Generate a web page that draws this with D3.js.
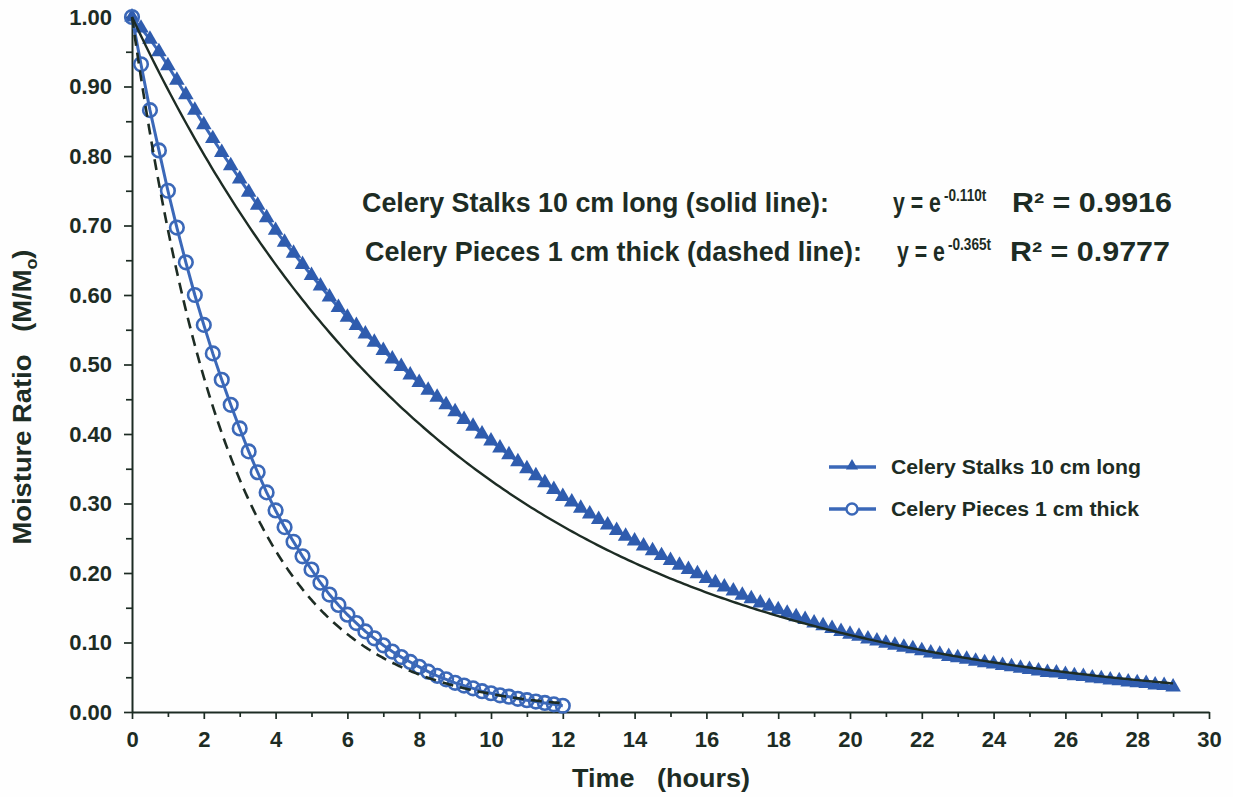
<!DOCTYPE html>
<html>
<head>
<meta charset="utf-8">
<script src="https://cdn.jsdelivr.net/npm/d3@7"></script>
<style>
  html, body { margin: 0; padding: 0; background: #fefefe; }
  svg { display: block; font-family: "Liberation Sans", Arial, sans-serif; font-weight: bold; }
</style>
</head>
<body>
<svg id="chart" width="1233" height="797"></svg>
<script>
// ---- data -------------------------------------------------------------
const xTicks = [0, 2, 4, 6, 8, 10, 12, 14, 16, 18, 20, 22, 24, 26, 28, 30];
const xMinorTicks = [1, 3, 5, 7, 9, 11, 13, 15, 17, 19, 21, 23, 25, 27, 29];
const yTicks = [0, 0.1, 0.2, 0.3, 0.4, 0.5, 0.6, 0.7, 0.8, 0.9, 1.0];
const yMinorTicks = [0.05, 0.15, 0.25, 0.35, 0.45, 0.55, 0.65, 0.75, 0.85, 0.95];

// readings were taken every quarter hour
const sampleStep = 0.25;

// moisture ratio M/Mo, celery stalks 10 cm long (t = 0 ... 29 h)
const stalkRatio = [
  1.000, 0.984, 0.968, 0.950, 0.930, 0.909, 0.888, 0.866,
  0.845, 0.825, 0.805, 0.786, 0.767, 0.748, 0.729, 0.711,
  0.693, 0.676, 0.660, 0.644, 0.628, 0.613, 0.597, 0.582,
  0.568, 0.556, 0.544, 0.532, 0.520, 0.508, 0.497, 0.485,
  0.474, 0.463, 0.453, 0.442, 0.432, 0.421, 0.411, 0.400,
  0.390, 0.380, 0.370, 0.360, 0.350, 0.340, 0.330, 0.320,
  0.310, 0.302, 0.293, 0.285, 0.277, 0.269, 0.261, 0.253,
  0.246, 0.239, 0.232, 0.225, 0.218, 0.211, 0.205, 0.199,
  0.192, 0.186, 0.180, 0.174, 0.168, 0.163, 0.157, 0.152,
  0.147, 0.142, 0.137, 0.133, 0.128, 0.124, 0.120, 0.116,
  0.112, 0.109, 0.105, 0.102, 0.099, 0.096, 0.093, 0.091,
  0.088, 0.085, 0.083, 0.080, 0.078, 0.076, 0.073, 0.071,
  0.069, 0.067, 0.065, 0.063, 0.061, 0.059, 0.057, 0.056,
  0.054, 0.052, 0.051, 0.049, 0.048, 0.046, 0.045, 0.043,
  0.042, 0.041, 0.039, 0.038, 0.036
];

// moisture ratio M/Mo, celery pieces 1 cm thick (t = 0 ... 12 h)
const pieceRatio = [
  1.000, 0.932, 0.866, 0.808, 0.750, 0.697, 0.647, 0.600,
  0.557, 0.516, 0.478, 0.442, 0.408, 0.375, 0.345, 0.316,
  0.290, 0.266, 0.245, 0.224, 0.205, 0.186, 0.169, 0.154,
  0.140, 0.128, 0.116, 0.106, 0.096, 0.087, 0.079, 0.072,
  0.065, 0.058, 0.052, 0.047, 0.042, 0.038, 0.034, 0.030,
  0.027, 0.024, 0.022, 0.019, 0.017, 0.015, 0.013, 0.011,
  0.009
];

const seriesNames = ["Celery Stalks 10 cm long", "Celery Pieces 1 cm thick"];

// exponential fits y = e^(-k t)
const fitRates = [0.110, 0.365];
const fitRateLabels = ["-0.110t", "-0.365t"];
const fitR2 = ["0.9916", "0.9777"];
const fitEnds = [29, 12];
const fitNotes = [
  "Celery Stalks 10 cm long (solid line):",
  "Celery Pieces 1 cm thick (dashed line):"
];

// ---- layout -----------------------------------------------------------
const INK = "#1d2c24";
const BLUE = "#2f5cae";
const BLUE_LINE = "#3b68b8";

const svg = d3.select("#chart");
const x = d3.scaleLinear().domain([0, 30]).range([132, 1209]);
const y = d3.scaleLinear().domain([0, 1]).range([712, 17]);

const stalks = stalkRatio.map((v, i) => ({ t: i * sampleStep, v }));
const pieces = pieceRatio.map((v, i) => ({ t: i * sampleStep, v }));

// ---- axes -------------------------------------------------------------
function styleAxis(g) {
  g.selectAll("path.domain").attr("stroke", INK).attr("stroke-width", 2);
  g.selectAll(".tick line").attr("stroke", INK).attr("stroke-width", 1.7);
  g.selectAll(".tick text")
    .attr("fill", INK)
    .style("font-size", "22px")
    .style("font-weight", "bold")
    .style("font-family", "'Liberation Sans', Arial, sans-serif");
}

svg.append("g")
  .attr("transform", `translate(0,${y(0)})`)
  .call(d3.axisBottom(x).tickValues(xMinorTicks).tickSize(5).tickFormat(""))
  .call(g => g.select("path.domain").remove())
  .call(styleAxis);

svg.append("g")
  .attr("transform", `translate(0,${y(0)})`)
  .call(d3.axisBottom(x).tickValues(xTicks).tickSize(7).tickSizeOuter(0)
    .tickPadding(12).tickFormat(d3.format("d")))
  .call(styleAxis);

svg.append("g")
  .attr("transform", `translate(${x(0)},0)`)
  .call(d3.axisLeft(y).tickValues(yMinorTicks).tickSize(6).tickFormat(""))
  .call(g => g.select("path.domain").remove())
  .call(styleAxis);

svg.append("g")
  .attr("transform", `translate(${x(0)},0)`)
  .call(d3.axisLeft(y).tickValues(yTicks).tickSize(8).tickSizeOuter(0)
    .tickPadding(12).tickFormat(d3.format(".2f")))
  .call(styleAxis);

// axis titles
svg.append("text")
  .attr("x", 661).attr("y", 787)
  .attr("text-anchor", "middle")
  .attr("fill", INK)
  .style("font-size", "26px")
  .attr("textLength", 178).attr("lengthAdjust", "spacingAndGlyphs")
  .text("Time\u00a0\u00a0\u00a0(hours)");

const yTitle = svg.append("text")
  .attr("transform", "translate(31,397) rotate(-90)")
  .attr("text-anchor", "middle")
  .attr("fill", INK)
  .style("font-size", "26px")
  .attr("textLength", 295).attr("lengthAdjust", "spacingAndGlyphs");
yTitle.append("tspan").text("Moisture Ratio\u00a0\u00a0\u00a0(M/M");
yTitle.append("tspan").attr("dy", 6).style("font-size", "17px").text("o");
yTitle.append("tspan").attr("dy", -6).text(")");

// ---- measured series --------------------------------------------------
const line = d3.line().x(d => x(d.t)).y(d => y(d.v));

svg.append("path")
  .datum(stalks)
  .attr("d", line)
  .attr("fill", "none")
  .attr("stroke", BLUE_LINE)
  .attr("stroke-width", 3);

svg.append("g").selectAll("path")
  .data(stalks)
  .join("path")
  .attr("transform", d => `translate(${x(d.t)},${y(d.v)})`)
  .attr("d", d3.symbol(d3.symbolTriangle, 105)())
  .attr("fill", BLUE);

svg.append("path")
  .datum(pieces)
  .attr("d", line)
  .attr("fill", "none")
  .attr("stroke", BLUE_LINE)
  .attr("stroke-width", 3);

svg.append("g").selectAll("circle")
  .data(pieces)
  .join("circle")
  .attr("cx", d => x(d.t))
  .attr("cy", d => y(d.v))
  .attr("r", 6.8)
  .attr("fill", "none")
  .attr("stroke", BLUE_LINE)
  .attr("stroke-width", 2.6);

// ---- exponential fits -------------------------------------------------
fitRates.forEach((k, i) => {
  const pts = d3.range(0, fitEnds[i] + 1e-9, fitEnds[i] / 300)
    .map(t => ({ t, v: Math.exp(-k * t) }));
  svg.append("path")
    .datum(pts)
    .attr("d", line)
    .attr("fill", "none")
    .attr("stroke", INK)
    .attr("stroke-width", i === 0 ? 2.4 : 2.6)
    .attr("stroke-dasharray", i === 0 ? null : "11,7");
});

// ---- fit equations ----------------------------------------------------
// the equation text is set in a condensed face, so each piece is squeezed horizontally
const noteRows = [
  { left: 362, width: 467, base: 212, eqX: 893, r2X: 1012, r2End: 1172 },
  { left: 365, width: 497, base: 261, eqX: 897, r2X: 1010, r2End: 1170 }
];
noteRows.forEach((r, i) => {
  svg.append("text")
    .attr("x", r.left).attr("y", r.base)
    .attr("fill", INK)
    .style("font-size", "28px")
    .attr("textLength", r.width).attr("lengthAdjust", "spacingAndGlyphs")
    .text(fitNotes[i]);
  svg.append("text")
    .attr("transform", `translate(${r.eqX},${r.base}) scale(0.76,1)`)
    .attr("fill", INK)
    .style("font-size", "28px")
    .text("y = e");
  svg.append("text")
    .attr("transform", `translate(${r.eqX + 51},${r.base - 11}) scale(0.85,1)`)
    .attr("fill", INK)
    .style("font-size", "16px")
    .text(fitRateLabels[i]);
  svg.append("text")
    .attr("x", r.r2X).attr("y", r.base)
    .attr("fill", INK)
    .style("font-size", "28px")
    .attr("textLength", r.r2End - r.r2X).attr("lengthAdjust", "spacingAndGlyphs")
    .text("R\u00b2 = " + fitR2[i]);
});

// ---- legend -----------------------------------------------------------
const legendRows = [
  { y: 467, width: 250, symbol: "triangle" },
  { y: 509, width: 248, symbol: "circle" }
];
legendRows.forEach((r, i) => {
  svg.append("line")
    .attr("x1", 829).attr("x2", 876)
    .attr("y1", r.y).attr("y2", r.y)
    .attr("stroke", BLUE_LINE).attr("stroke-width", 3.5);
  if (r.symbol === "triangle") {
    svg.append("path")
      .attr("transform", `translate(852,${r.y - 1})`)
      .attr("d", d3.symbol(d3.symbolTriangle, 64)())
      .attr("fill", BLUE);
  } else {
    svg.append("circle")
      .attr("cx", 852).attr("cy", r.y).attr("r", 5.5)
      .attr("fill", "#fefefe")
      .attr("stroke", BLUE_LINE).attr("stroke-width", 2.4);
  }
  svg.append("text")
    .attr("x", 891).attr("y", r.y + 7)
    .attr("fill", INK)
    .style("font-size", "20px")
    .attr("textLength", r.width).attr("lengthAdjust", "spacingAndGlyphs")
    .text(seriesNames[i]);
});
</script>
</body>
</html>
